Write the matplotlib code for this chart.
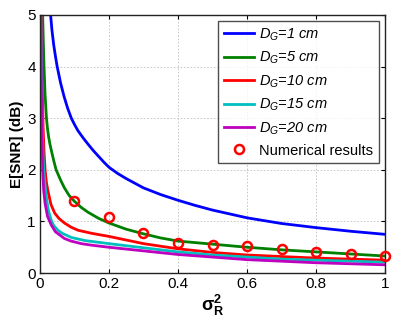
import matplotlib
matplotlib.use("Agg")
import matplotlib.pyplot as plt

plt.rcParams['font.family'] = ['Liberation Sans', 'DejaVu Sans']
plt.rcParams['mathtext.fontset'] = 'custom'
plt.rcParams['mathtext.rm'] = 'Liberation Sans'
plt.rcParams['mathtext.it'] = 'Liberation Sans:italic'
plt.rcParams['mathtext.bf'] = 'Liberation Sans:bold'

# ---- data ----
x_dg1 = [0.031, 0.035, 0.04, 0.045, 0.05, 0.06, 0.07, 0.08, 0.091, 0.1, 0.11, 0.125, 0.139, 0.155,
         0.17, 0.185, 0.2, 0.225, 0.25, 0.275, 0.3, 0.35, 0.4, 0.45, 0.5, 0.6, 0.7, 0.8, 0.9, 1.0]
y_dg1 = [5.0, 4.7, 4.42, 4.2, 4.0, 3.68, 3.42, 3.2, 3.0, 2.88, 2.76, 2.62, 2.5, 2.37,
         2.26, 2.15, 2.05, 1.93, 1.83, 1.74, 1.65, 1.52, 1.41, 1.31, 1.22, 1.07, 0.96, 0.88, 0.81, 0.75]

x_dg5 = [0.008, 0.01, 0.012, 0.015, 0.019, 0.022, 0.025, 0.029, 0.033, 0.04, 0.047, 0.06, 0.071, 0.085,
         0.1, 0.12, 0.139, 0.17, 0.2, 0.25, 0.3, 0.35, 0.4, 0.5, 0.6, 0.7, 0.8, 0.9, 1.0]
y_dg5 = [5.0, 4.45, 4.0, 3.45, 3.0, 2.8, 2.65, 2.5, 2.38, 2.18, 2.0, 1.8, 1.65, 1.5,
         1.39, 1.27, 1.18, 1.06, 0.97, 0.85, 0.76, 0.68, 0.62, 0.56, 0.50, 0.45, 0.41, 0.37, 0.33]

x_dg10 = [0.004, 0.006, 0.009, 0.012, 0.015, 0.019, 0.023, 0.032, 0.043, 0.055, 0.071, 0.09, 0.11, 0.15,
          0.2, 0.3, 0.4, 0.5, 0.6, 0.7, 0.8, 0.9, 1.0]
y_dg10 = [5.0, 4.0, 2.9, 2.35, 2.0, 1.75, 1.6, 1.33, 1.16, 1.06, 0.97, 0.89, 0.83, 0.77,
          0.71, 0.57, 0.47, 0.40, 0.35, 0.32, 0.29, 0.27, 0.25]

x_dg15 = [0.003, 0.005, 0.007, 0.009, 0.011, 0.015, 0.02, 0.025, 0.033, 0.04, 0.052, 0.065, 0.091, 0.13,
          0.2, 0.3, 0.4, 0.5, 0.6, 0.7, 0.8, 0.9, 1.0]
y_dg15 = [5.0, 3.8, 2.8, 2.3, 2.0, 1.7, 1.4, 1.2, 1.02, 0.92, 0.83, 0.77, 0.69, 0.63,
          0.57, 0.49, 0.41, 0.35, 0.31, 0.27, 0.25, 0.23, 0.21]

x_dg20 = [0.0025, 0.004, 0.006, 0.008, 0.011, 0.015, 0.022, 0.033, 0.045, 0.071, 0.09, 0.12, 0.15,
          0.2, 0.3, 0.4, 0.5, 0.6, 0.7, 0.8, 0.9, 1.0]
y_dg20 = [5.0, 3.8, 2.7, 2.0, 1.6, 1.35, 1.1, 0.93, 0.8, 0.67, 0.62, 0.57, 0.54,
          0.50, 0.43, 0.36, 0.31, 0.26, 0.23, 0.20, 0.18, 0.16]

x_num = [0.1, 0.2, 0.3, 0.4, 0.5, 0.6, 0.7, 0.8, 0.9, 1.0]
y_num = [1.39, 1.09, 0.78, 0.58, 0.54, 0.52, 0.46, 0.40, 0.36, 0.34]

labels = [r'$D_G$=1 cm', r'$D_G$=5 cm', r'$D_G$=10 cm', r'$D_G$=15 cm', r'$D_G$=20 cm']
colors = ['#0000FF', '#008000', '#FF0000', '#00BFBF', '#BF00BF']
x_ticks = [0, 0.2, 0.4, 0.6, 0.8, 1]
x_ticklabels = ['0', '0.2', '0.4', '0.6', '0.8', '1']
y_ticks = [0, 1, 2, 3, 4, 5]

fig = plt.figure(figsize=(3.95, 3.31), dpi=100)
ax = fig.add_axes([0.101, 0.175, 0.874, 0.780])

series = [(x_dg1, y_dg1), (x_dg5, y_dg5), (x_dg10, y_dg10), (x_dg15, y_dg15), (x_dg20, y_dg20)]
for (xs, ys), c, lab in zip(series, colors, labels):
    ax.plot(xs, ys, color=c, lw=2.0, label=lab, clip_on=True, solid_joinstyle='round')

ax.plot(x_num, y_num, 'o', mfc='none', mec='red', mew=1.8, ms=6.5, label='Numerical results',
        clip_on=False, zorder=5)

ax.set_xlim(0, 1)
ax.set_ylim(0, 5)
ax.set_xticks(x_ticks)
ax.set_xticklabels(x_ticklabels)
ax.set_yticks(y_ticks)
ax.tick_params(direction='in', top=True, right=True, labelsize=11, length=3, width=0.8, pad=3)
ax.grid(True, linestyle=(0, (2, 2)), color='#c0c0c0', lw=0.6)
for s in ax.spines.values():
    s.set_linewidth(1.0)
    s.set_color('#222222')

ax.set_ylabel('E[SNR] (dB)', fontsize=11, fontweight='bold', labelpad=2)
ax.set_xlabel(r'$\mathbf{\sigma_R^2}$', fontsize=13, labelpad=1)

leg = ax.legend(loc='upper right', prop={'size': 10.5, 'style': 'italic'}, numpoints=1,
                handlelength=2.1, frameon=True, fancybox=False, edgecolor='#222222',
                borderaxespad=0.4, labelspacing=0.48, handletextpad=0.35, borderpad=0.4)
leg.get_frame().set_linewidth(1.0)
leg.get_texts()[-1].set_fontstyle('normal')

fig.savefig('out.png', dpi=100)
